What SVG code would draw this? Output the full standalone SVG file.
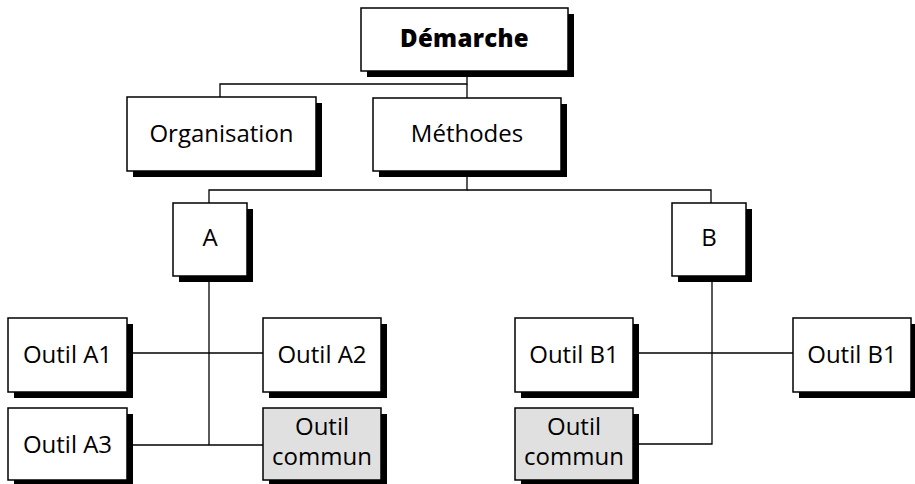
<svg xmlns="http://www.w3.org/2000/svg" width="915" height="484" viewBox="0 0 915 484">
  <style>
    .shadow { fill: #000; }
    .box { fill: #fff; stroke: #000; stroke-width: 1.5; }
    .box.shared { fill: #e0e0e0; }
    .label { font-family: "Open Sans", "Noto Sans", "Liberation Sans", sans-serif; font-size: 24px; fill: #000; text-anchor: middle; }
    .title { font-weight: 800; letter-spacing: 0.3px; }
    .links line, .links polyline { stroke: #000; stroke-width: 1.3; fill: none; }
  </style>

  <rect width="915" height="484" fill="#fff"/>

  <!-- connectors -->
  <g class="links">
    <polyline points="467,71 467,84 220,84 220,97"/>
    <line x1="467" y1="84" x2="467" y2="98"/>
    <polyline points="467,176 467,190 209,190 209,203"/>
    <polyline points="467,190 711,190 711,203"/>
    <polyline points="209,282 209,445"/>
    <line x1="132" y1="353" x2="263" y2="353"/>
    <line x1="132" y1="445" x2="263" y2="445"/>
    <polyline points="712,282 712,444 638,444"/>
    <line x1="638" y1="353" x2="793" y2="353"/>
  </g>

  <!-- Démarche -->
  <g id="demarche">
    <rect class="shadow" x="367" y="14" width="207" height="63"/>
    <rect class="box" x="361" y="8" width="207" height="63"/>
    <text class="label title" x="464.5" y="47">Démarche</text>
  </g>

  <!-- Organisation -->
  <g id="organisation">
    <rect class="shadow" x="133" y="103" width="189" height="74"/>
    <rect class="box" x="127" y="97" width="189" height="74"/>
    <text class="label" x="221.5" y="142">Organisation</text>
  </g>

  <!-- Méthodes -->
  <g id="methodes">
    <rect class="shadow" x="379" y="104" width="188" height="73"/>
    <rect class="box" x="373" y="98" width="188" height="73"/>
    <text class="label" x="467" y="142">Méthodes</text>
  </g>

  <!-- A -->
  <g id="a">
    <rect class="shadow" x="179" y="209" width="74" height="73"/>
    <rect class="box" x="173" y="203" width="74" height="73"/>
    <text class="label" x="210" y="246">A</text>
  </g>

  <!-- B -->
  <g id="b">
    <rect class="shadow" x="678" y="209" width="74" height="73"/>
    <rect class="box" x="672" y="203" width="74" height="73"/>
    <text class="label" x="709" y="246">B</text>
  </g>

  <!-- Outil A1 -->
  <g id="outil-a1">
    <rect class="shadow" x="14" y="324" width="119" height="74"/>
    <rect class="box" x="8" y="318" width="119" height="74"/>
    <text class="label" x="67.5" y="363">Outil A1</text>
  </g>

  <!-- Outil A2 -->
  <g id="outil-a2">
    <rect class="shadow" x="269" y="324" width="118" height="74"/>
    <rect class="box" x="263" y="318" width="118" height="74"/>
    <text class="label" x="322" y="363">Outil A2</text>
  </g>

  <!-- Outil A3 -->
  <g id="outil-a3">
    <rect class="shadow" x="14" y="414" width="119" height="72"/>
    <rect class="box" x="8" y="408" width="119" height="72"/>
    <text class="label" x="67.5" y="453">Outil A3</text>
  </g>

  <!-- Outil commun (A) -->
  <g id="outil-commun-a">
    <rect class="shadow" x="269" y="414" width="118" height="72"/>
    <rect class="box shared" x="263" y="408" width="118" height="72"/>
    <text class="label" x="322" y="435">Outil</text>
    <text class="label" x="322" y="465">commun</text>
  </g>

  <!-- Outil B1 (left) -->
  <g id="outil-b1-left">
    <rect class="shadow" x="521" y="324" width="118" height="74"/>
    <rect class="box" x="515" y="318" width="118" height="74"/>
    <text class="label" x="574" y="363">Outil B1</text>
  </g>

  <!-- Outil B1 (right) -->
  <g id="outil-b1-right">
    <rect class="shadow" x="799" y="324" width="118" height="74"/>
    <rect class="box" x="793" y="318" width="118" height="74"/>
    <text class="label" x="852" y="363">Outil B1</text>
  </g>

  <!-- Outil commun (B) -->
  <g id="outil-commun-b">
    <rect class="shadow" x="521" y="414" width="118" height="72"/>
    <rect class="box shared" x="515" y="408" width="118" height="72"/>
    <text class="label" x="574" y="435">Outil</text>
    <text class="label" x="574" y="465">commun</text>
  </g>
</svg>
